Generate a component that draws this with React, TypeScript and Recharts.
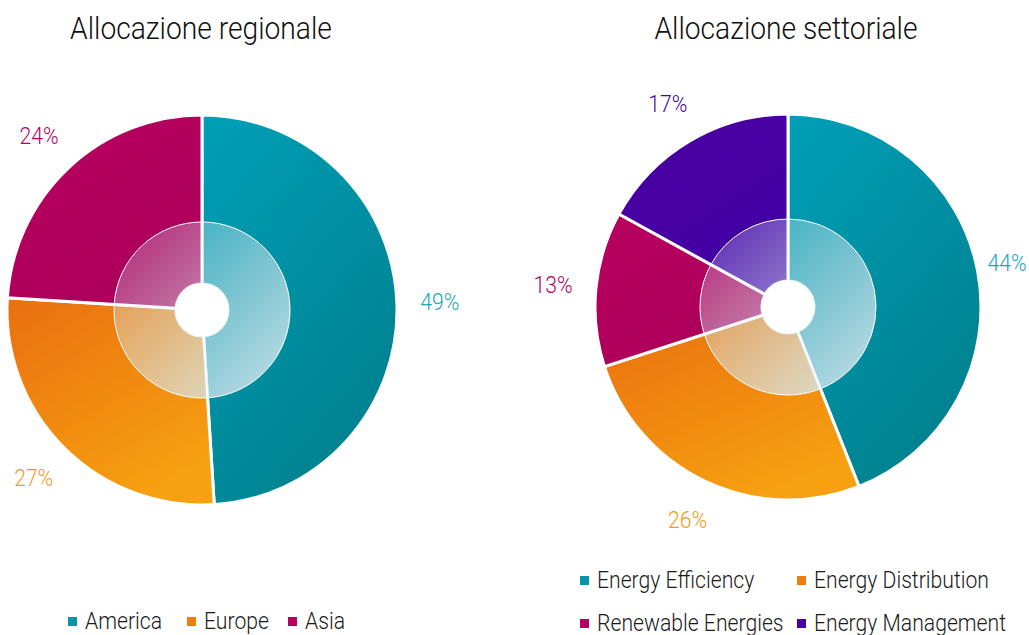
import React from 'react';
import { PieChart, Pie, Cell } from 'recharts';

// regional allocation
const regionNames = ['America', 'Europe', 'Asia'];
const regionValues = [49, 27, 24];
const regionColors = ['teal', 'orange', 'magenta'];

// sector allocation
const sectorNames = ['Energy Efficiency', 'Energy Distribution', 'Renewable Energies', 'Energy Management'];
const sectorValues = [44, 26, 13, 17];
const sectorColors = ['teal', 'orange', 'magenta', 'purple'];

const OVERLAY = [{ name: 'overlay', value: 1 }];

const PALETTE: Record<string, { from: string; to: string; label: string; swatch: string }> = {
  teal: { from: '#009fb7', to: '#00818f', label: '#17a5bf', swatch: '#0a93a8' },
  orange: { from: '#e96f10', to: '#f7a010', label: '#f39a1a', swatch: '#ee7d12' },
  magenta: { from: '#b9005f', to: '#ab005b', label: '#b5005f', swatch: '#b5005f' },
  purple: { from: '#4c00a0', to: '#4200a6', label: '#4a00a0', swatch: '#4a00a0' },
};

const FONT = 'Roboto, "Noto Sans", sans-serif';
const RADIAN = Math.PI / 180;

// white radial divider drawn at the start angle of each slice
const divider = (props: any) => {
  const a = -props.startAngle * RADIAN;
  return (
    <line
      x1={props.cx + props.innerRadius * Math.cos(a)}
      y1={props.cy + props.innerRadius * Math.sin(a)}
      x2={props.cx + props.outerRadius * Math.cos(a)}
      y2={props.cy + props.outerRadius * Math.sin(a)}
      stroke="#ffffff"
      strokeOpacity={0.8}
      strokeWidth={2.5}
    />
  );
};

interface PieBlockProps {
  id: string;
  names: string[];
  values: number[];
  colors: string[];
  width: number;
  height: number;
  cx: number;
  cy: number;
  outer: number;
}

function PieBlock({ id, names, values, colors, width, height, cx, cy, outer }: PieBlockProps) {
  const data = names.map((name, i) => ({ name, value: values[i] }));

  const renderLabel = (props: any) => {
    const r = props.outerRadius + 43;
    let x = props.cx + r * Math.cos(-props.midAngle * RADIAN);
    const y = props.cy + r * Math.sin(-props.midAngle * RADIAN);
    x = Math.min(Math.max(x, 22), width - 22);
    const c = PALETTE[colors[props.index]];
    return (
      <text
        transform={`translate(${x},${y}) scale(0.92,1)`}
        x={0}
        y={0}
        textAnchor="middle"
        dominantBaseline="central"
        fill={c.label}
        style={{ fontFamily: FONT, fontWeight: 300, fontSize: 23 }}
      >
        {`${props.value}%`}
      </text>
    );
  };

  return (
    <PieChart width={width} height={height}>
      <defs>
        {colors.map((c) => (
          <linearGradient key={c} id={`${id}-${c}`} x1="0" y1="0" x2="0.6" y2="1">
            <stop offset="0%" stopColor={PALETTE[c].from} />
            <stop offset="100%" stopColor={PALETTE[c].to} />
          </linearGradient>
        ))}
        <linearGradient id={`${id}-overlay`} x1="0" y1="0" x2="1" y2="1">
          <stop offset="0%" stopColor="#d6e9f0" stopOpacity={0.15} />
          <stop offset="100%" stopColor="#d6e9f0" stopOpacity={0.92} />
        </linearGradient>
      </defs>
      <Pie
        data={data}
        dataKey="value"
        cx={cx}
        cy={cy}
        innerRadius={26}
        outerRadius={outer}
        startAngle={90}
        endAngle={-270}
        stroke="#ffffff"
        strokeWidth={3}
        label={renderLabel}
        labelLine={false}
        isAnimationActive={false}
      >
        {data.map((d, i) => (
          <Cell key={d.name} fill={`url(#${id}-${colors[i]})`} />
        ))}
      </Pie>
      <Pie
        data={OVERLAY}
        dataKey="value"
        cx={cx}
        cy={cy}
        innerRadius={26}
        outerRadius={88}
        startAngle={90}
        endAngle={-270}
        stroke="none"
        fill={`url(#${id}-overlay)`}
        isAnimationActive={false}
      />
      <Pie
        data={data}
        dataKey="value"
        cx={cx}
        cy={cy}
        innerRadius={26}
        outerRadius={88}
        startAngle={90}
        endAngle={-270}
        fill="none"
        inactiveShape={divider}
        activeShape={divider}
        isAnimationActive={false}
      />
    </PieChart>
  );
}

function LegendItem({ name, color }: { name: string; color: string }) {
  return (
    <span style={{ display: 'inline-flex', alignItems: 'center', whiteSpace: 'nowrap' }}>
      <span style={{ width: 9, height: 9, flexShrink: 0, background: PALETTE[color].swatch, display: 'inline-block', marginRight: 8 }} />
      <span style={{ display: 'inline-block', transform: 'scaleX(0.92)', transformOrigin: 'left center', fontSize: 23, fontWeight: 300, color: '#1a1a1a' }}>
        {name}
      </span>
    </span>
  );
}

const titleStyle: React.CSSProperties = {
  position: 'absolute',
  top: 10,
  fontFamily: FONT,
  fontWeight: 300,
  fontSize: 31,
  color: '#111111',
  textAlign: 'center',
  transform: 'scaleX(0.91)',
  whiteSpace: 'nowrap',
};

export default function App() {
  return (
    <div style={{ position: 'absolute', left: 0, top: 0, width: 1029, height: 635, overflow: 'hidden', background: '#ffffff', fontFamily: FONT }}>
      <div style={{ ...titleStyle, left: 1, width: 400 }}>Allocazione regionale</div>
      <div style={{ ...titleStyle, left: 586, width: 400 }}>Allocazione settoriale</div>

      <div style={{ position: 'absolute', left: 0, top: 0 }}>
        <PieBlock id="reg" names={regionNames} values={regionValues} colors={regionColors} width={470} height={560} cx={197} cy={305} outer={195} />
      </div>
      <div style={{ position: 'absolute', left: 480, top: 0 }}>
        <PieBlock id="sec" names={sectorNames} values={sectorValues} colors={sectorColors} width={549} height={560} cx={303} cy={302} outer={193} />
      </div>

      {/* left legend */}
      <div style={{ position: 'absolute', left: 68, top: 608, display: 'flex' }}>
        {regionNames.map((n, i) => (
          <span key={n} style={{ width: [119, 101, 60][i] }}>
            <LegendItem name={n} color={regionColors[i]} />
          </span>
        ))}
      </div>

      {/* right legend, two columns */}
      <div style={{ position: 'absolute', left: 580, top: 567, display: 'grid', gridTemplateColumns: '217px 230px', rowGap: 16 }}>
        {sectorNames.map((n, i) => (
          <LegendItem key={n} name={n} color={sectorColors[i]} />
        ))}
      </div>
    </div>
  );
}
